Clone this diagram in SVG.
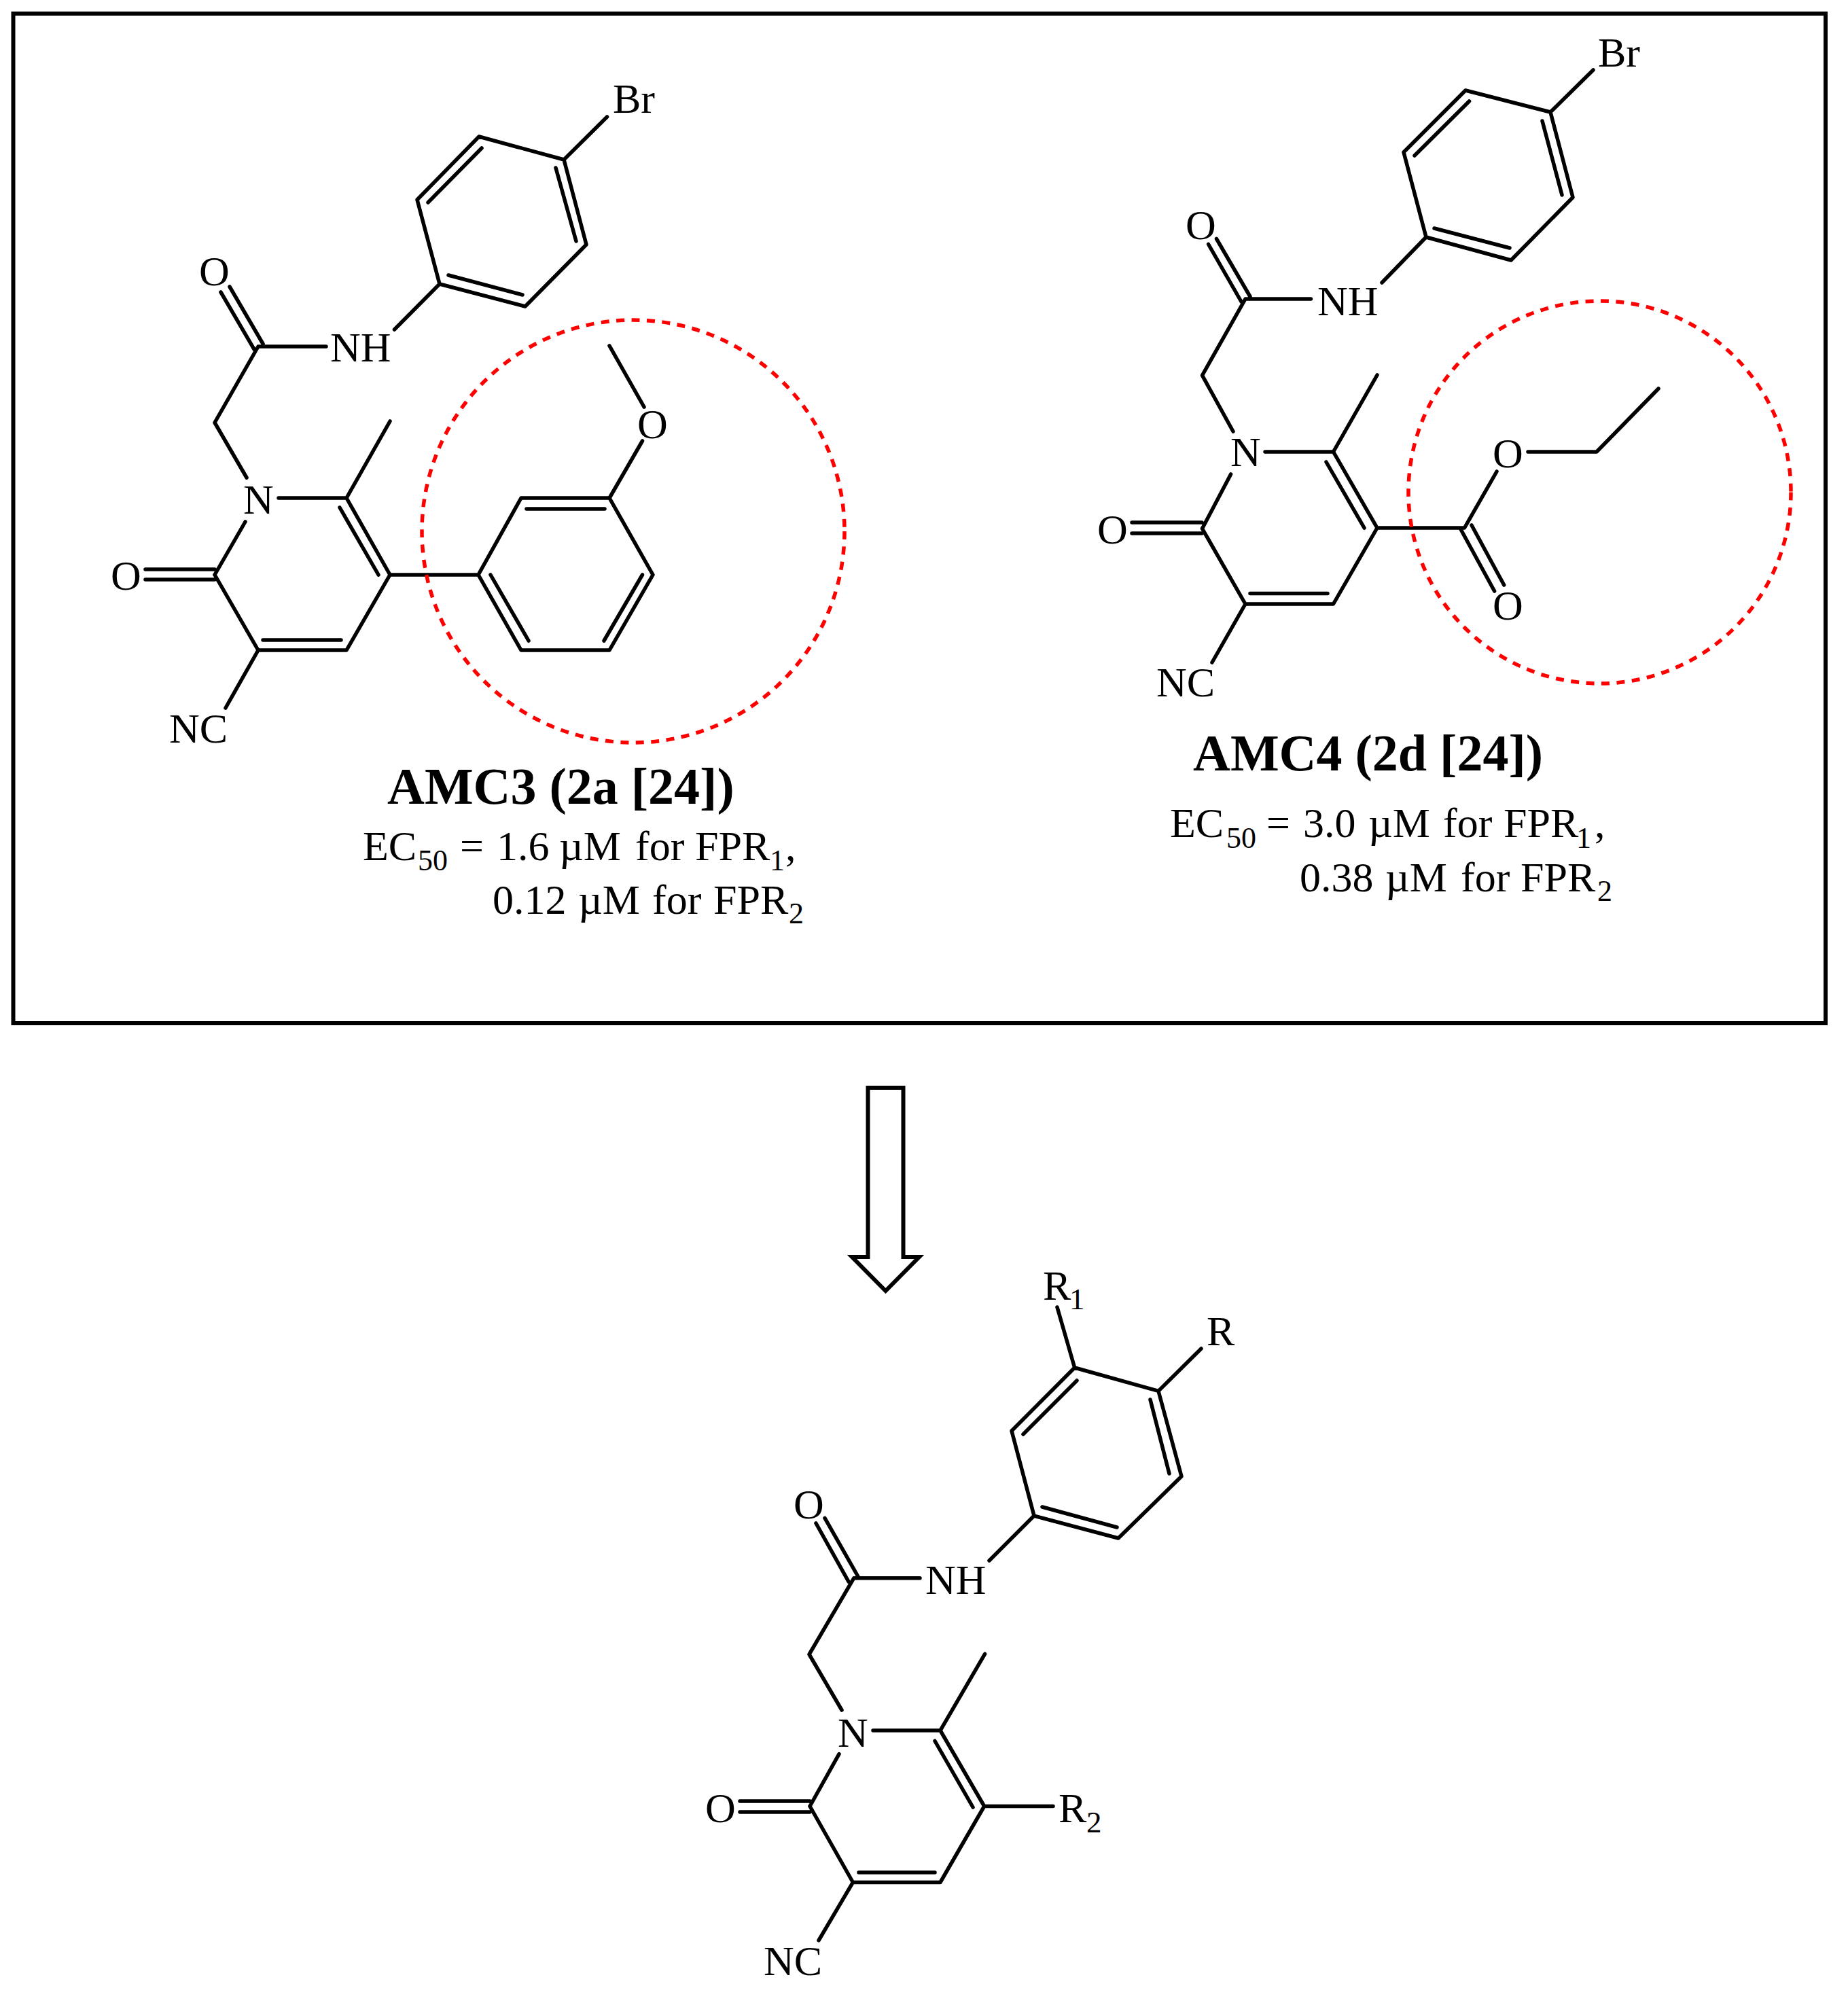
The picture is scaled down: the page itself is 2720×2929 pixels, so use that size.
<svg xmlns="http://www.w3.org/2000/svg" width="2720" height="2929" viewBox="0 0 2720 2929">
<style>
.bond{fill:none;stroke:#000;stroke-width:5.5;stroke-linecap:round;stroke-linejoin:round}
.hl{fill:none;stroke:#f00;stroke-width:5.5;stroke-dasharray:12 10.5}
.frame{fill:#fff;stroke:#000;stroke-width:6;stroke-linejoin:miter}
text{font-family:"Liberation Serif","Times New Roman",serif;fill:#000}
.atom{font-size:62px}
.sub{font-size:45px}
.title{font-size:76px;font-weight:bold}
.cap{font-size:62px}
.capsub{font-size:44px}
</style>
<rect width="2720" height="2929" fill="#fff"/>
<rect id="frame" class="frame" x="19.5" y="20" width="2667.5" height="1486"/>

<g id="connectors">
<path id="bonds-amc3" class="bond" d="M316,846L380,957L510,957L574,846L510,733L410,733M361,768L316,846M510,733L574,620M500,747L557,846M387,942L502,942M214,838H316M214,853H316M380,957L332,1042M363,703L316,622L380,510L480,510M338,422L387,506M325,430L374,514M580.5,485L647,418L773,451L863,360L830,235L705,201L614,294L647,418M709,218L630,298M818,247L848,355M660,405L769,434M830,235L893.5,172M574,846L704,846L767,957L897,957L961,846L897,733L767,733L704,846M775,749L890,749M722,846L778,943M889,943L945.5,846M897,733L945.5,649M948,599L897,509"/>
<path id="bonds-amc4" class="bond" d="M1769.5,778L1833,889L1962.5,889L2027,777L1962.5,665L1862,665M1811.6,698L1769.5,778M1962.5,665L2027,552M1952,680L2008,777M1840,873.5L1954,873.5M1666,769H1769M1666,785H1769M1833,889L1784,975M1815,635L1769.5,552.5L1833,440L1929.5,440M1790.5,351.5L1840,436.5M1778.6,359.5L1827,444M2034,416L2099,349L2224,383L2315,290.5L2282,165L2157,133L2066,224L2099,349M2162.5,149L2082,229M2270,178L2299,287M2111,336L2222,365M2282,165L2345,103M2027,777L2155.5,777L2203,694M2249,665L2350,665L2441,572M2166,773L2213.7,861M2150,779L2199.6,870"/>
<path id="bonds-scaffold" class="bond" d="M1192,2658.5L1255.4,2770.5L1384,2770.5L1448.7,2658.5L1384,2547L1285,2547M1235,2581.7L1192,2658.5M1384,2547L1449.6,2434.4M1376,2562.5L1432,2660M1264,2756L1376,2756M1089,2651H1192M1089,2667H1192M1255.4,2770.5L1205,2856M1448.7,2658.5L1550,2658.5M1239,2517L1191,2435L1256.7,2322.8L1354,2322.8M1214,2234.4L1263,2320.5M1201,2242L1249,2328M1456,2297L1522,2231L1646,2264L1739,2173L1705,2047.4L1581.7,2013L1489,2106L1522,2231M1585,2032L1506,2111M1693,2060L1721,2169M1534,2218L1644,2248M1705,2047.4L1768,1985M1581.7,2013L1556,1924"/>
<path id="process-arrow" d="M1277.5,1601H1329.5V1850H1353L1303.5,1900L1254,1850H1277.5Z" fill="#fff" stroke="#000" stroke-width="6" stroke-linejoin="miter"/>
</g>

<circle id="highlight-amc3" class="hl" cx="932" cy="782" r="311"/>
<circle id="highlight-amc4" class="hl" cx="2354.5" cy="724.5" r="281.5"/>

<g id="amc3">
<text class="atom" x="902" y="166">Br</text>
<text class="atom" x="486" y="532">NH</text>
<text class="atom" x="293" y="420">O</text>
<text class="atom" x="358" y="756">N</text>
<text class="atom" x="163" y="868">O</text>
<text class="atom" x="249" y="1093">NC</text>
<text class="atom" x="938" y="645">O</text>
<text class="title" x="570" y="1183">AMC3 (2a [24])</text>
<text class="cap" y="1266"><tspan x="534">EC</tspan><tspan x="677">=</tspan><tspan x="731">1.6</tspan><tspan x="823">µM</tspan><tspan x="935">for</tspan><tspan x="1023">FPR</tspan><tspan x="1156">,</tspan></text>
<text class="capsub" y="1281"><tspan x="615">50</tspan><tspan x="1133">1</tspan></text>
<text class="cap" y="1345"><tspan x="725">0.12</tspan><tspan x="851">µM</tspan><tspan x="960">for</tspan><tspan x="1050">FPR</tspan></text>
<text class="capsub" x="1161" y="1359">2</text>
</g>

<g id="amc4">
<text class="atom" x="2352" y="98">Br</text>
<text class="atom" x="1939" y="464">NH</text>
<text class="atom" x="1745" y="352">O</text>
<text class="atom" x="1811" y="686">N</text>
<text class="atom" x="1615" y="800">O</text>
<text class="atom" x="1702" y="1025">NC</text>
<text class="atom" x="2197" y="688">O</text>
<text class="atom" x="2197" y="912">O</text>
<text class="title" x="1756" y="1134">AMC4 (2d [24])</text>
<text class="cap" y="1232"><tspan x="1722">EC</tspan><tspan x="1864">=</tspan><tspan x="1918">3.0</tspan><tspan x="2014">µM</tspan><tspan x="2124">for</tspan><tspan x="2213">FPR</tspan><tspan x="2347">,</tspan></text>
<text class="capsub" y="1248"><tspan x="1805">50</tspan><tspan x="2320">1</tspan></text>
<text class="cap" y="1312"><tspan x="1913">0.38</tspan><tspan x="2039">µM</tspan><tspan x="2150">for</tspan><tspan x="2238">FPR</tspan></text>
<text class="capsub" x="2351" y="1326">2</text>
</g>

<g id="scaffold">
<text class="atom" x="1535" y="1913">R</text>
<text class="sub" x="1574" y="1927">1</text>
<text class="atom" x="1776" y="1980">R</text>
<text class="atom" x="1362" y="2346">NH</text>
<text class="atom" x="1168" y="2235">O</text>
<text class="atom" x="1233" y="2571">N</text>
<text class="atom" x="1038" y="2682">O</text>
<text class="atom" x="1558" y="2682">R</text>
<text class="sub" x="1599" y="2697">2</text>
<text class="atom" x="1124" y="2907">NC</text>
</g>
</svg>
